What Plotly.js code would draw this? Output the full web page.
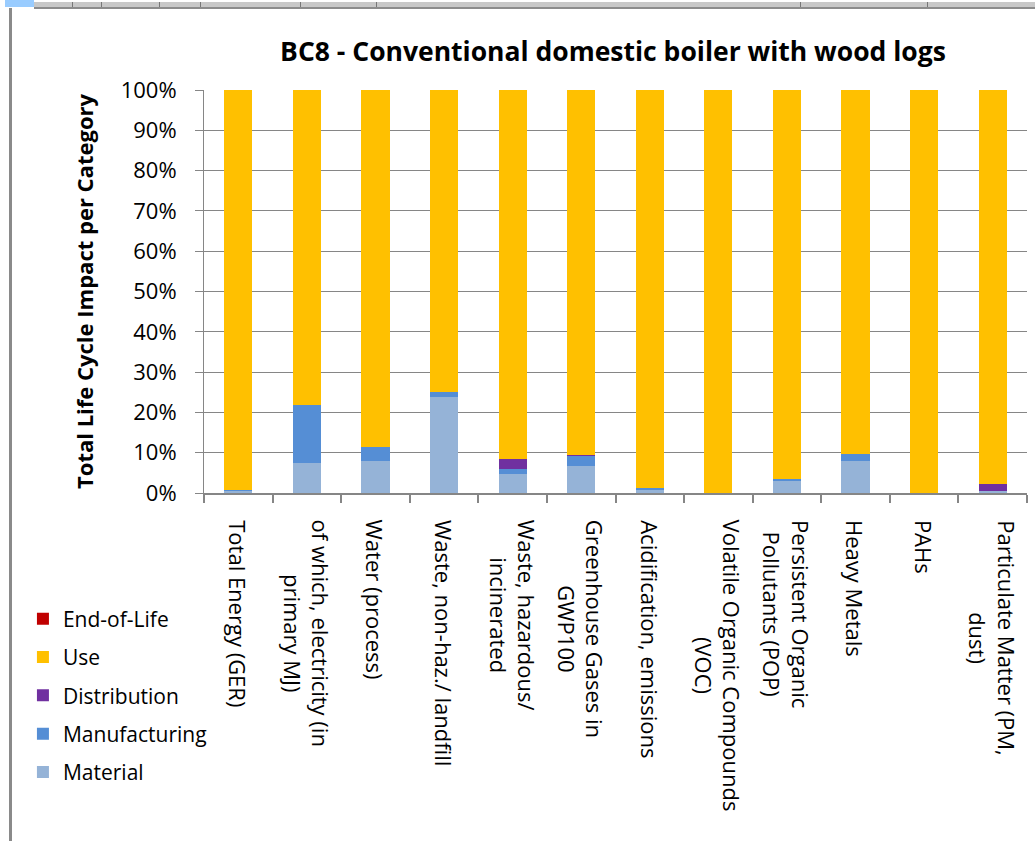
<!DOCTYPE html>
<html>
<head>
<meta charset="utf-8">
<script src="https://cdn.plot.ly/plotly-3.0.1.min.js"></script>
<style>
  html, body { margin: 0; padding: 0; background: #ffffff; }
  #wrap { position: relative; width: 1035px; height: 841px; overflow: hidden; }
  #chart { position: absolute; left: 0; top: 0; width: 1035px; height: 841px; }
  .topbar { position: absolute; left: 34px; top: 2px; width: 1001px; height: 5px; background: #c8c8c8; border-bottom: 2px solid #8c8c8c; z-index: 2; }
  .topcell { position: absolute; left: 5px; top: 0; width: 29px; height: 7px; background: #99ccff; z-index: 2; }
  .leftrule { position: absolute; left: 9px; top: 8px; width: 3px; height: 833px; background: #8a8a8a; z-index: 2; }
  .sep { position: absolute; top: 2px; width: 1px; height: 5px; background: #777; z-index: 3; }
</style>
</head>
<body>
<div id="wrap">
  <div class="topcell"></div>
  <div class="topbar"></div>
  <div class="sep" style="left:72px"></div>
  <div class="sep" style="left:101px"></div>
  <div class="sep" style="left:159px"></div>
  <div class="sep" style="left:200px"></div>
  <div class="sep" style="left:300px"></div>
  <div class="sep" style="left:376px"></div>
  <div class="sep" style="left:800px"></div>
  <div class="sep" style="left:927px"></div>
  <div class="leftrule"></div>
  <div id="chart"></div>
</div>
<script>
// Impact categories (x axis)
const categories = [
  "Total Energy (GER)",
  "of which, electricity (in<br>primary MJ)",
  "Water (process)",
  "Waste, non-haz./ landfill",
  "Waste, hazardous/<br>incinerated",
  "Greenhouse Gases in<br>GWP100",
  "Acidification, emissions",
  "Volatile Organic Compounds<br>(VOC)",
  "Persistent Organic<br>Pollutants (POP)",
  "Heavy Metals",
  "PAHs",
  "Particulate Matter (PM,<br>dust)"
];

// Share of total life cycle impact per phase, in percent
const material      = [0.4, 7.5, 8.0, 23.9, 4.7, 6.7, 0.8, 0.0, 3.0, 7.9, 0.0, 0.4];
const manufacturing = [0.3, 14.4, 3.4, 1.2, 1.3, 2.5, 0.5, 0.0, 0.5, 1.8, 0.0, 0.0];
const distribution  = [0.0, 0.0, 0.0, 0.0, 2.4, 0.2, 0.0, 0.0, 0.0, 0.0, 0.0, 1.9];
const use           = [99.3, 78.1, 88.6, 74.9, 91.6, 90.6, 98.7, 100.0, 96.5, 90.3, 100.0, 97.7];
const endOfLife     = [0.0, 0.0, 0.0, 0.0, 0.0, 0.0, 0.0, 0.0, 0.0, 0.0, 0.0, 0.0];

const yTicks = [0, 10, 20, 30, 40, 50, 60, 70, 80, 90, 100];

// Stacked bottom to top; the legend lists them top phase first
const phases = [
  { name: "Material",      values: material,      color: "#95B3D7" },
  { name: "Manufacturing", values: manufacturing, color: "#558ED5" },
  { name: "Distribution",  values: distribution,  color: "#7030A0" },
  { name: "Use",           values: use,           color: "#FFC000" },
  { name: "End-of-Life",   values: endOfLife,     color: "#C00000" }
];

const traces = phases.map((p, i) => ({
  type: "bar",
  name: p.name,
  x: categories,
  y: p.values,
  legendgroup: p.name,
  legendrank: 1000 - i,
  marker: { color: p.color, line: { width: 0 } },
  hoverinfo: "x+y+name"
}));

const font = "'Open Sans', 'DejaVu Sans', sans-serif";

// Category names drawn vertically below the axis, lines centred on each other
const categoryLabels = categories.map(c => ({
  text: c,
  x: c, xref: "x",
  y: 0, yref: "paper",
  xanchor: "center", yanchor: "top",
  yshift: -25,
  textangle: 90,
  align: "center",
  showarrow: false,
  font: { family: font, size: 22, color: "#000000" }
}));

const layout = {
  width: 1035,
  height: 841,
  barmode: "stack",
  bargap: 0.59,
  paper_bgcolor: "rgba(0,0,0,0)",
  plot_bgcolor: "#ffffff",
  margin: { l: 204, r: 8, t: 90, b: 348, pad: 0 },
  font: { family: font, color: "#000000" },
  title: {
    text: "<b>BC8 - Conventional domestic boiler with wood logs</b>",
    font: { family: font, size: 26.5, color: "#000000" },
    x: 0.497, xanchor: "center", xref: "paper",
    y: 0.938, yanchor: "middle"
  },
  xaxis: {
    type: "category",
    tickson: "boundaries",
    ticks: "outside",
    ticklen: 8,
    tickcolor: "#868686",
    tickwidth: 2,
    showline: true,
    linecolor: "#868686",
    linewidth: 2,
    showgrid: false,
    showticklabels: false,
    fixedrange: true
  },
  yaxis: {
    range: [0, 100],
    tickvals: yTicks,
    ticktext: yTicks.map(v => v + "%"),
    ticks: "outside",
    ticklen: 8,
    tickcolor: "#868686",
    showline: true,
    linecolor: "#868686",
    linewidth: 1,
    showgrid: true,
    gridcolor: "#868686",
    gridwidth: 1,
    zeroline: false,
    ticklabelstandoff: 14,
    tickfont: { family: font, size: 22, color: "#000000" },
    title: {
      text: "<b>Total Life Cycle Impact per Category</b>",
      font: { family: font, size: 22, color: "#000000" },
      standoff: 20
    },
    fixedrange: true
  },
  annotations: categoryLabels,
  legend: {
    x: -0.22, xanchor: "left",
    y: -0.262, yanchor: "top",
    traceorder: "grouped",
    tracegroupgap: 8,
    font: { family: font, size: 21, color: "#000000" },
    bgcolor: "rgba(0,0,0,0)",
    itemclick: false,
    itemdoubleclick: false
  },
  showlegend: true
};

Plotly.newPlot("chart", traces, layout, { displayModeBar: false, staticPlot: true });
</script>
</body>
</html>
